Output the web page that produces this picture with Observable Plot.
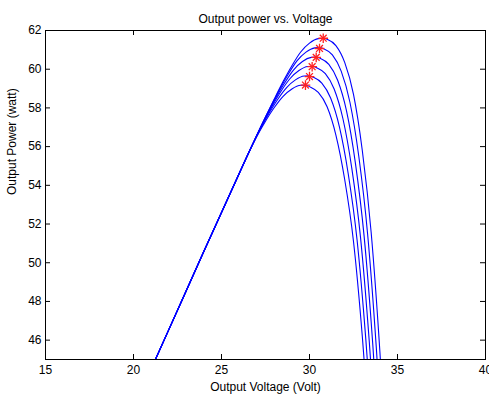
<!DOCTYPE html>
<html><head><meta charset="utf-8">
<script src="https://cdn.jsdelivr.net/npm/d3@7"></script>
<script src="https://cdn.jsdelivr.net/npm/@observablehq/plot@0.6"></script>
<style>body{margin:0;background:#fff}#chart svg{display:block}</style>
</head><body><div id="chart"></div>
<script>
const titleText = "Output power vs. Voltage";
const xLabel = "Output Voltage (Volt)";
const yLabel = "Output Power (watt)";
const xTicks = [15, 20, 25, 30, 35, 40];
const yTicks = [46, 48, 50, 52, 54, 56, 58, 60, 62];

// shared rising part (all curves overlap here)
const commonV = [20.8, 22, 24, 26];
const commonP = [44.1, 46.53, 50.59, 54.6];

// six P-V curves, highest to lowest
const curve1V = [27.5, 28.0, 28.5, 29.0, 29.5, 30.0, 30.5, 30.78, 31.0, 31.5, 32.0, 32.5, 33.0, 33.5, 34.0, 34.3];
const curve1P = [57.53, 58.46, 59.36, 60.18, 60.89, 61.35, 61.58, 61.60, 61.55, 61.22, 60.35, 58.70, 55.80, 51.60, 45.40, 40.90];
const curve2V = [27.3, 27.8, 28.3, 28.8, 29.3, 29.8, 30.3, 30.58, 30.8, 31.3, 31.8, 32.3, 32.8, 33.3, 33.8, 34.1];
const curve2P = [57.15, 58.07, 58.95, 59.75, 60.44, 60.88, 61.10, 61.12, 61.06, 60.74, 59.90, 58.28, 55.50, 51.50, 45.56, 41.24];
const curve3V = [27.1, 27.6, 28.1, 28.6, 29.1, 29.6, 30.1, 30.38, 30.6, 31.1, 31.6, 32.1, 32.6, 33.1, 33.6, 33.9];
const curve3P = [56.76, 57.68, 58.54, 59.31, 59.97, 60.40, 60.61, 60.63, 60.57, 60.25, 59.43, 57.86, 55.20, 51.40, 45.72, 41.58];
const curve4V = [26.9, 27.4, 27.9, 28.4, 28.9, 29.4, 29.9, 30.18, 30.4, 30.9, 31.4, 31.9, 32.4, 32.9, 33.4, 33.7];
const curve4P = [56.37, 57.29, 58.13, 58.89, 59.52, 59.93, 60.14, 60.15, 60.08, 59.77, 58.98, 57.44, 54.90, 51.30, 45.88, 41.92];
const curve5V = [26.7, 27.2, 27.7, 28.2, 28.7, 29.2, 29.7, 29.98, 30.2, 30.7, 31.2, 31.7, 32.2, 32.7, 33.2, 33.5];
const curve5P = [55.98, 56.90, 57.72, 58.45, 59.05, 59.45, 59.65, 59.66, 59.59, 59.28, 58.51, 57.02, 54.60, 51.20, 46.04, 42.26];
const curve6V = [26.5, 27.0, 27.5, 28.0, 28.5, 29.0, 29.5, 29.78, 30.0, 30.5, 31.0, 31.5, 32.0, 32.5, 33.0, 33.3];
const curve6P = [55.60, 56.51, 57.31, 58.02, 58.60, 58.98, 59.17, 59.18, 59.10, 58.80, 58.06, 56.60, 54.30, 51.10, 46.20, 42.60];

// maximum power points (red asterisks)
const mppV = [30.78, 30.57, 30.38, 30.15, 30.0, 29.77];
const mppP = [61.60, 61.07, 60.61, 60.13, 59.62, 59.18];

const curvesV = [curve1V, curve2V, curve3V, curve4V, curve5V, curve6V];
const curvesP = [curve1P, curve2P, curve3P, curve4P, curve5P, curve6P];
const rows = [];
curvesV.forEach((vs, i) => {
  commonV.forEach((v, j) => rows.push({curve: i, v, p: commonP[j]}));
  vs.forEach((v, j) => rows.push({curve: i, v, p: curvesP[i][j]}));
});
const mpp = mppV.map((v, i) => ({v, p: mppP[i]}));

const W = 489, H = 399, mT = 30, mB = 40, mL = 45, mR = 4;
const fw = W - mL - mR, fh = H - mT - mB, tl = 5;
const font = "'Liberation Sans', Arial, sans-serif";

const chart = Plot.plot({
  width: W, height: H,
  marginTop: mT, marginBottom: mB, marginLeft: mL, marginRight: mR,
  style: {fontFamily: font, fontSize: "12px", background: "white", color: "black"},
  x: {domain: [15, 40]},
  y: {domain: [45, 62]},
  marks: [
    Plot.axisX(xTicks, {tickSize: 0, tickPadding: 6, label: null, fontSize: 12}),
    Plot.axisY(yTicks, {tickSize: 0, tickPadding: 4, label: null, fontSize: 12}),
    Plot.tickX(xTicks, {x: d => d, stroke: "black", insetTop: fh - tl}),
    Plot.tickX(xTicks, {x: d => d, stroke: "black", insetBottom: fh - tl}),
    Plot.tickY(yTicks, {y: d => d, stroke: "black", insetRight: fw - tl}),
    Plot.tickY(yTicks, {y: d => d, stroke: "black", insetLeft: fw - tl}),
    Plot.line(rows, {x: "v", y: "p", z: "curve", stroke: "#0000ff", strokeWidth: 1.1, curve: "monotone-x", clip: true}),
    Plot.dot(mpp, {x: "v", y: "p", symbol: "plus", r: 3.2, stroke: "#ff2020", strokeWidth: 1.3}),
    Plot.dot(mpp, {x: "v", y: "p", symbol: "times", r: 3.2, stroke: "#ff2020", strokeWidth: 1.3}),
    Plot.frame({stroke: "black"}),
    Plot.text([titleText], {frameAnchor: "top", dy: -16, fontSize: 12, fill: "black"}),
    Plot.text([xLabel], {frameAnchor: "bottom", dy: 31, fontSize: 12, fill: "black"}),
    Plot.text([yLabel], {frameAnchor: "left", dx: -33, rotate: -90, fontSize: 12, fill: "black"})
  ]
});
document.getElementById("chart").appendChild(chart);
</script>
</body></html>
